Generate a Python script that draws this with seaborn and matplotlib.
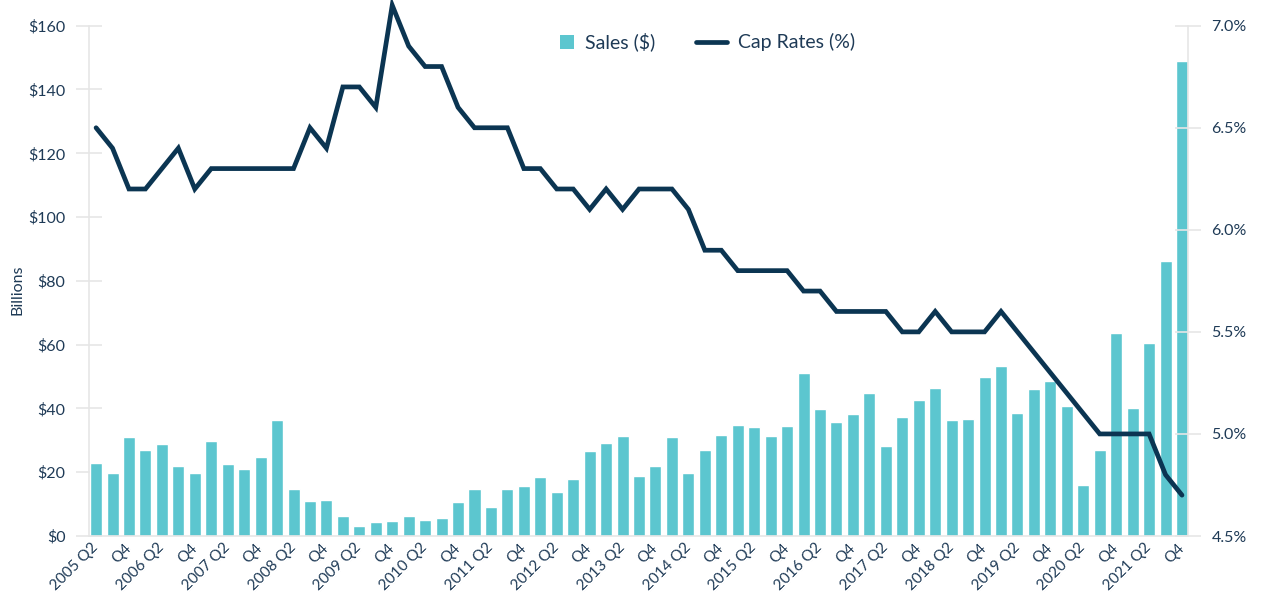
import numpy as np
import pandas as pd
import matplotlib
matplotlib.use("Agg")
import matplotlib.pyplot as plt
import seaborn as sns
from matplotlib.lines import Line2D
from matplotlib.patches import Patch, Rectangle
from matplotlib.legend_handler import HandlerPatch
from matplotlib.ticker import FuncFormatter

# ---------------- data ----------------
years = list(range(2005, 2022))
quarters = [f"{y} Q{q}" for y in years for q in (1, 2, 3, 4)][1:]  # 2005 Q2 .. 2021 Q4

sales = [22.9, 19.7, 31.0, 27.0, 28.8, 21.9, 19.7, 29.8, 22.6, 21.0,
         24.8, 36.4, 14.7, 11.0, 11.3, 6.3, 3.1, 4.4, 4.7, 6.3,
         5.0, 5.6, 10.7, 14.7, 9.1, 14.7, 15.7, 18.5, 13.8, 17.9,
         26.6, 29.2, 31.3, 18.8, 21.9, 31.0, 19.7, 27.0, 31.7, 34.8,
         34.2, 31.3, 34.5, 51.1, 39.8, 35.7, 38.2, 44.8, 28.2, 37.3,
         42.6, 46.4, 36.4, 36.7, 49.8, 53.3, 38.6, 46.1, 48.6, 40.8,
         16.0, 27.0, 63.6, 40.1, 60.5, 86.2, 148.9]

cap_rates = [6.5, 6.4, 6.2, 6.2, 6.3, 6.4, 6.2, 6.3, 6.3, 6.3,
             6.3, 6.3, 6.3, 6.5, 6.4, 6.7, 6.7, 6.6, 7.1, 6.9,
             6.8, 6.8, 6.6, 6.5, 6.5, 6.5, 6.3, 6.3, 6.2, 6.2,
             6.1, 6.2, 6.1, 6.2, 6.2, 6.2, 6.1, 5.9, 5.9, 5.8,
             5.8, 5.8, 5.8, 5.7, 5.7, 5.6, 5.6, 5.6, 5.6, 5.5,
             5.5, 5.6, 5.5, 5.5, 5.5, 5.6, 5.5, 5.4, 5.3, 5.2,
             5.1, 5.0, 5.0, 5.0, 5.0, 4.8, 4.7]

tick_labels = ["2005 Q2", "Q4", "2006 Q2", "Q4", "2007 Q2", "Q4", "2008 Q2", "Q4",
               "2009 Q2", "Q4", "2010 Q2", "Q4", "2011 Q2", "Q4", "2012 Q2", "Q4",
               "2013 Q2", "Q4", "2014 Q2", "Q4", "2015 Q2", "Q4", "2016 Q2", "Q4",
               "2017 Q2", "Q4", "2018 Q2", "Q4", "2019 Q2", "Q4", "2020 Q2", "Q4",
               "2021 Q2", "Q4"]

left_ticks = [0, 20, 40, 60, 80, 100, 120, 140, 160]
right_ticks = [4.5, 5.0, 5.5, 6.0, 6.5, 7.0]

# ---------------- style ----------------
sns.set_theme(style="white")
plt.rcParams['font.family'] = ['Lato', 'DejaVu Sans']

TEAL = '#5CC6CF'
NAVY = '#0B3552'
TEXT = '#1E3A56'
GRID = '#E6E6E6'

W, H = 1262, 593
fig = plt.figure(figsize=(W / 100, H / 100), dpi=100)
ax = fig.add_axes([89 / W, 1 - 536 / H, (1188 - 89) / W, (536 - 25.7) / H])

df = pd.DataFrame({'quarter': quarters, 'sales': sales, 'cap': cap_rates})
sns.barplot(data=df, x='quarter', y='sales', color=TEAL, saturation=1,
            width=0.73, ax=ax)

ax2 = ax.twinx()
sns.lineplot(x=np.arange(len(quarters)), y=cap_rates, ax=ax2, color=NAVY,
             linewidth=3.4)
for ln in ax2.lines:
    ln.set_clip_on(False)
    ln.set_solid_joinstyle('miter')

ax.set_xlim(-0.43, len(quarters) - 1 + 0.365)
ax.set_ylim(0, 160)
ax2.set_ylim(4.5, 7.0)

ax.set_yticks(left_ticks)
ax.yaxis.set_major_formatter(FuncFormatter(lambda v, p: f"${v:.0f}"))
ax2.set_yticks(right_ticks)
ax2.yaxis.set_major_formatter(FuncFormatter(lambda v, p: f"{v:.1f}%"))

ax.set_xticks(range(0, len(quarters), 2))
ax.set_xticklabels(tick_labels, rotation=45, ha='right', va='center',
                   rotation_mode='anchor')
ax.set_xlabel('')
ax.set_ylabel('Billions', fontsize=11.5, color=TEXT)
ax.yaxis.set_label_coords(-0.059, 0.482)

ax.tick_params(axis='y', direction='inout', length=19, width=1.2, color=GRID,
               pad=7.5, labelsize=11.5, labelcolor=TEXT)
ax2.tick_params(axis='y', direction='inout', length=19, width=1.2, color=GRID,
                pad=7.5, labelsize=11.5, labelcolor=TEXT)
ax.tick_params(axis='x', length=0, pad=7, labelsize=11, labelcolor=TEXT)

for s in ['top', 'right']:
    ax.spines[s].set_visible(False)
for s in ['top', 'left', 'bottom']:
    ax2.spines[s].set_visible(False)
for s in ['left', 'bottom']:
    ax.spines[s].set_color(GRID)
    ax.spines[s].set_linewidth(1.2)
ax2.spines['right'].set_color(GRID)
ax2.spines['right'].set_linewidth(1.2)
ax.grid(False)
ax2.grid(False)


def square_at_right(legend, orig_handle, xdescent, ydescent, width, height, fontsize):
    s = 10.0  # points
    return Rectangle((width - xdescent - s, -ydescent + (height - s) / 2), s, s)


handles = [Patch(facecolor=TEAL, edgecolor='none', label='Sales ($)'),
           Line2D([0], [0], color=NAVY, linewidth=3.4, label='Cap Rates (%)')]
fig.legend(handles=handles, loc='center', bbox_to_anchor=(699 / W, 1 - 42 / H),
           ncol=2, frameon=False, fontsize=14, labelcolor=TEXT,
           handlelength=1.6, columnspacing=2.1, handletextpad=0.57,
           handler_map={Patch: HandlerPatch(patch_func=square_at_right)})

fig.savefig('out.png', dpi=100)
